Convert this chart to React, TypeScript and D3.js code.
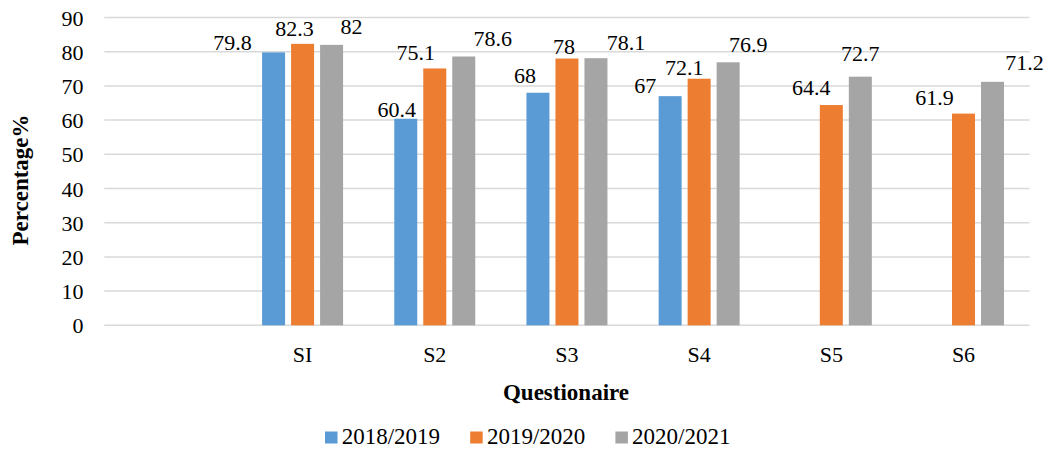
import React from "react";
import * as d3 from "d3";

// Questionnaire results per school year
const categories: string[] = ["", "SI", "S2", "S3", "S4", "S5", "S6"];
const seriesNames: string[] = ["2018/2019", "2019/2020", "2020/2021"];
const values2018: (number | null)[] = [null, 79.8, 60.4, 68, 67, null, null];
const values2019: (number | null)[] = [null, 82.3, 75.1, 78, 72.1, 64.4, 61.9];
const values2020: (number | null)[] = [null, 82, 78.6, 78.1, 76.9, 72.7, 71.2];
const yTicks: number[] = [0, 10, 20, 30, 40, 50, 60, 70, 80, 90];

// Hand-placed data label nudges [dx from bar centre, dy from bar top]
const nudge2018: [number, number][] = [[0, 0], [-41, -2], [-9, -2], [-13, -10], [-25, -3], [0, 0], [0, 0]];
const nudge2019: [number, number][] = [[0, 0], [-8, -8], [-19, -8], [-3, -5], [-15, -4], [-20, -10], [-29, -9]];
const nudge2020: [number, number][] = [[0, 0], [20, -11], [29, -10], [30, -8], [20, -10], [0, -16], [32, -12]];

const colors = ["#5b9bd5", "#ed7d31", "#a5a5a5"];
const FONT = "'Liberation Serif', 'Times New Roman', serif";

export default function App() {
  const W = 1051;
  const H = 450;
  const left = 104.3;
  const right = 1029.6;
  const top = 17.5;
  const bottom = 325.3;

  const x = d3.scaleBand<string>().domain(categories).range([left, right]).padding(0);
  const y = d3.scaleLinear().domain([0, 90]).range([bottom, top]);
  const barW = 23;
  const pitch = 29;

  const series = [values2018, values2019, values2020];
  const nudges = [nudge2018, nudge2019, nudge2020];

  return (
    <svg
      width={W}
      height={H}
      style={{ position: "absolute", left: 0, top: 0, background: "#fff" }}
      fontFamily={FONT}
    >
      {/* gridlines */}
      {yTicks.map((t) => (
        <line key={"g" + t} x1={left} x2={right} y1={y(t)} y2={y(t)} stroke="#d9d9d9" strokeWidth={1.5} />
      ))}
      {/* y tick labels */}
      {yTicks.map((t) => (
        <text key={"t" + t} x={83.5} y={y(t) + 8} textAnchor="end" fontSize={22} fill="#000">
          {t}
        </text>
      ))}
      {/* bars */}
      {series.map((vals, si) =>
        vals.map((v, ci) => {
          if (v == null) return null;
          const cx = (x(categories[ci]) as number) + x.bandwidth() / 2 + (si - 1) * pitch;
          return (
            <rect
              key={`b${si}-${ci}`}
              x={cx - barW / 2}
              y={y(v)}
              width={barW}
              height={y(0) - y(v)}
              fill={colors[si]}
            />
          );
        })
      )}
      {/* data labels */}
      {series.map((vals, si) =>
        vals.map((v, ci) => {
          if (v == null) return null;
          const cx = (x(categories[ci]) as number) + x.bandwidth() / 2 + (si - 1) * pitch;
          const [dx, dy] = nudges[si][ci];
          return (
            <text
              key={`l${si}-${ci}`}
              x={cx + dx}
              y={y(v) + dy}
              textAnchor="middle"
              fontSize={22}
              fill="#000"
            >
              {v}
            </text>
          );
        })
      )}
      {/* category labels */}
      {categories.map((c) => (
        <text
          key={"c" + c}
          x={(x(c) as number) + x.bandwidth() / 2}
          y={362}
          textAnchor="middle"
          fontSize={22}
          fill="#000"
        >
          {c}
        </text>
      ))}
      {/* axis titles */}
      <text x={566} y={400} textAnchor="middle" fontSize={23} fontWeight="bold" fill="#000">
        Questionaire
      </text>
      <text
        transform={`translate(28,180) rotate(-90)`}
        textAnchor="middle"
        fontSize={23}
        fontWeight="bold"
        fill="#000"
      >
        Percentage%
      </text>
      {/* legend */}
      {seriesNames.map((name, i) => {
        const lx = 325 + i * 145.2;
        return (
          <g key={"lg" + name}>
            <rect x={lx} y={431.5} width={12.5} height={12} fill={colors[i]} />
            <text x={lx + 16.7} y={444} fontSize={23} fill="#000">
              {name}
            </text>
          </g>
        );
      })}
    </svg>
  );
}
